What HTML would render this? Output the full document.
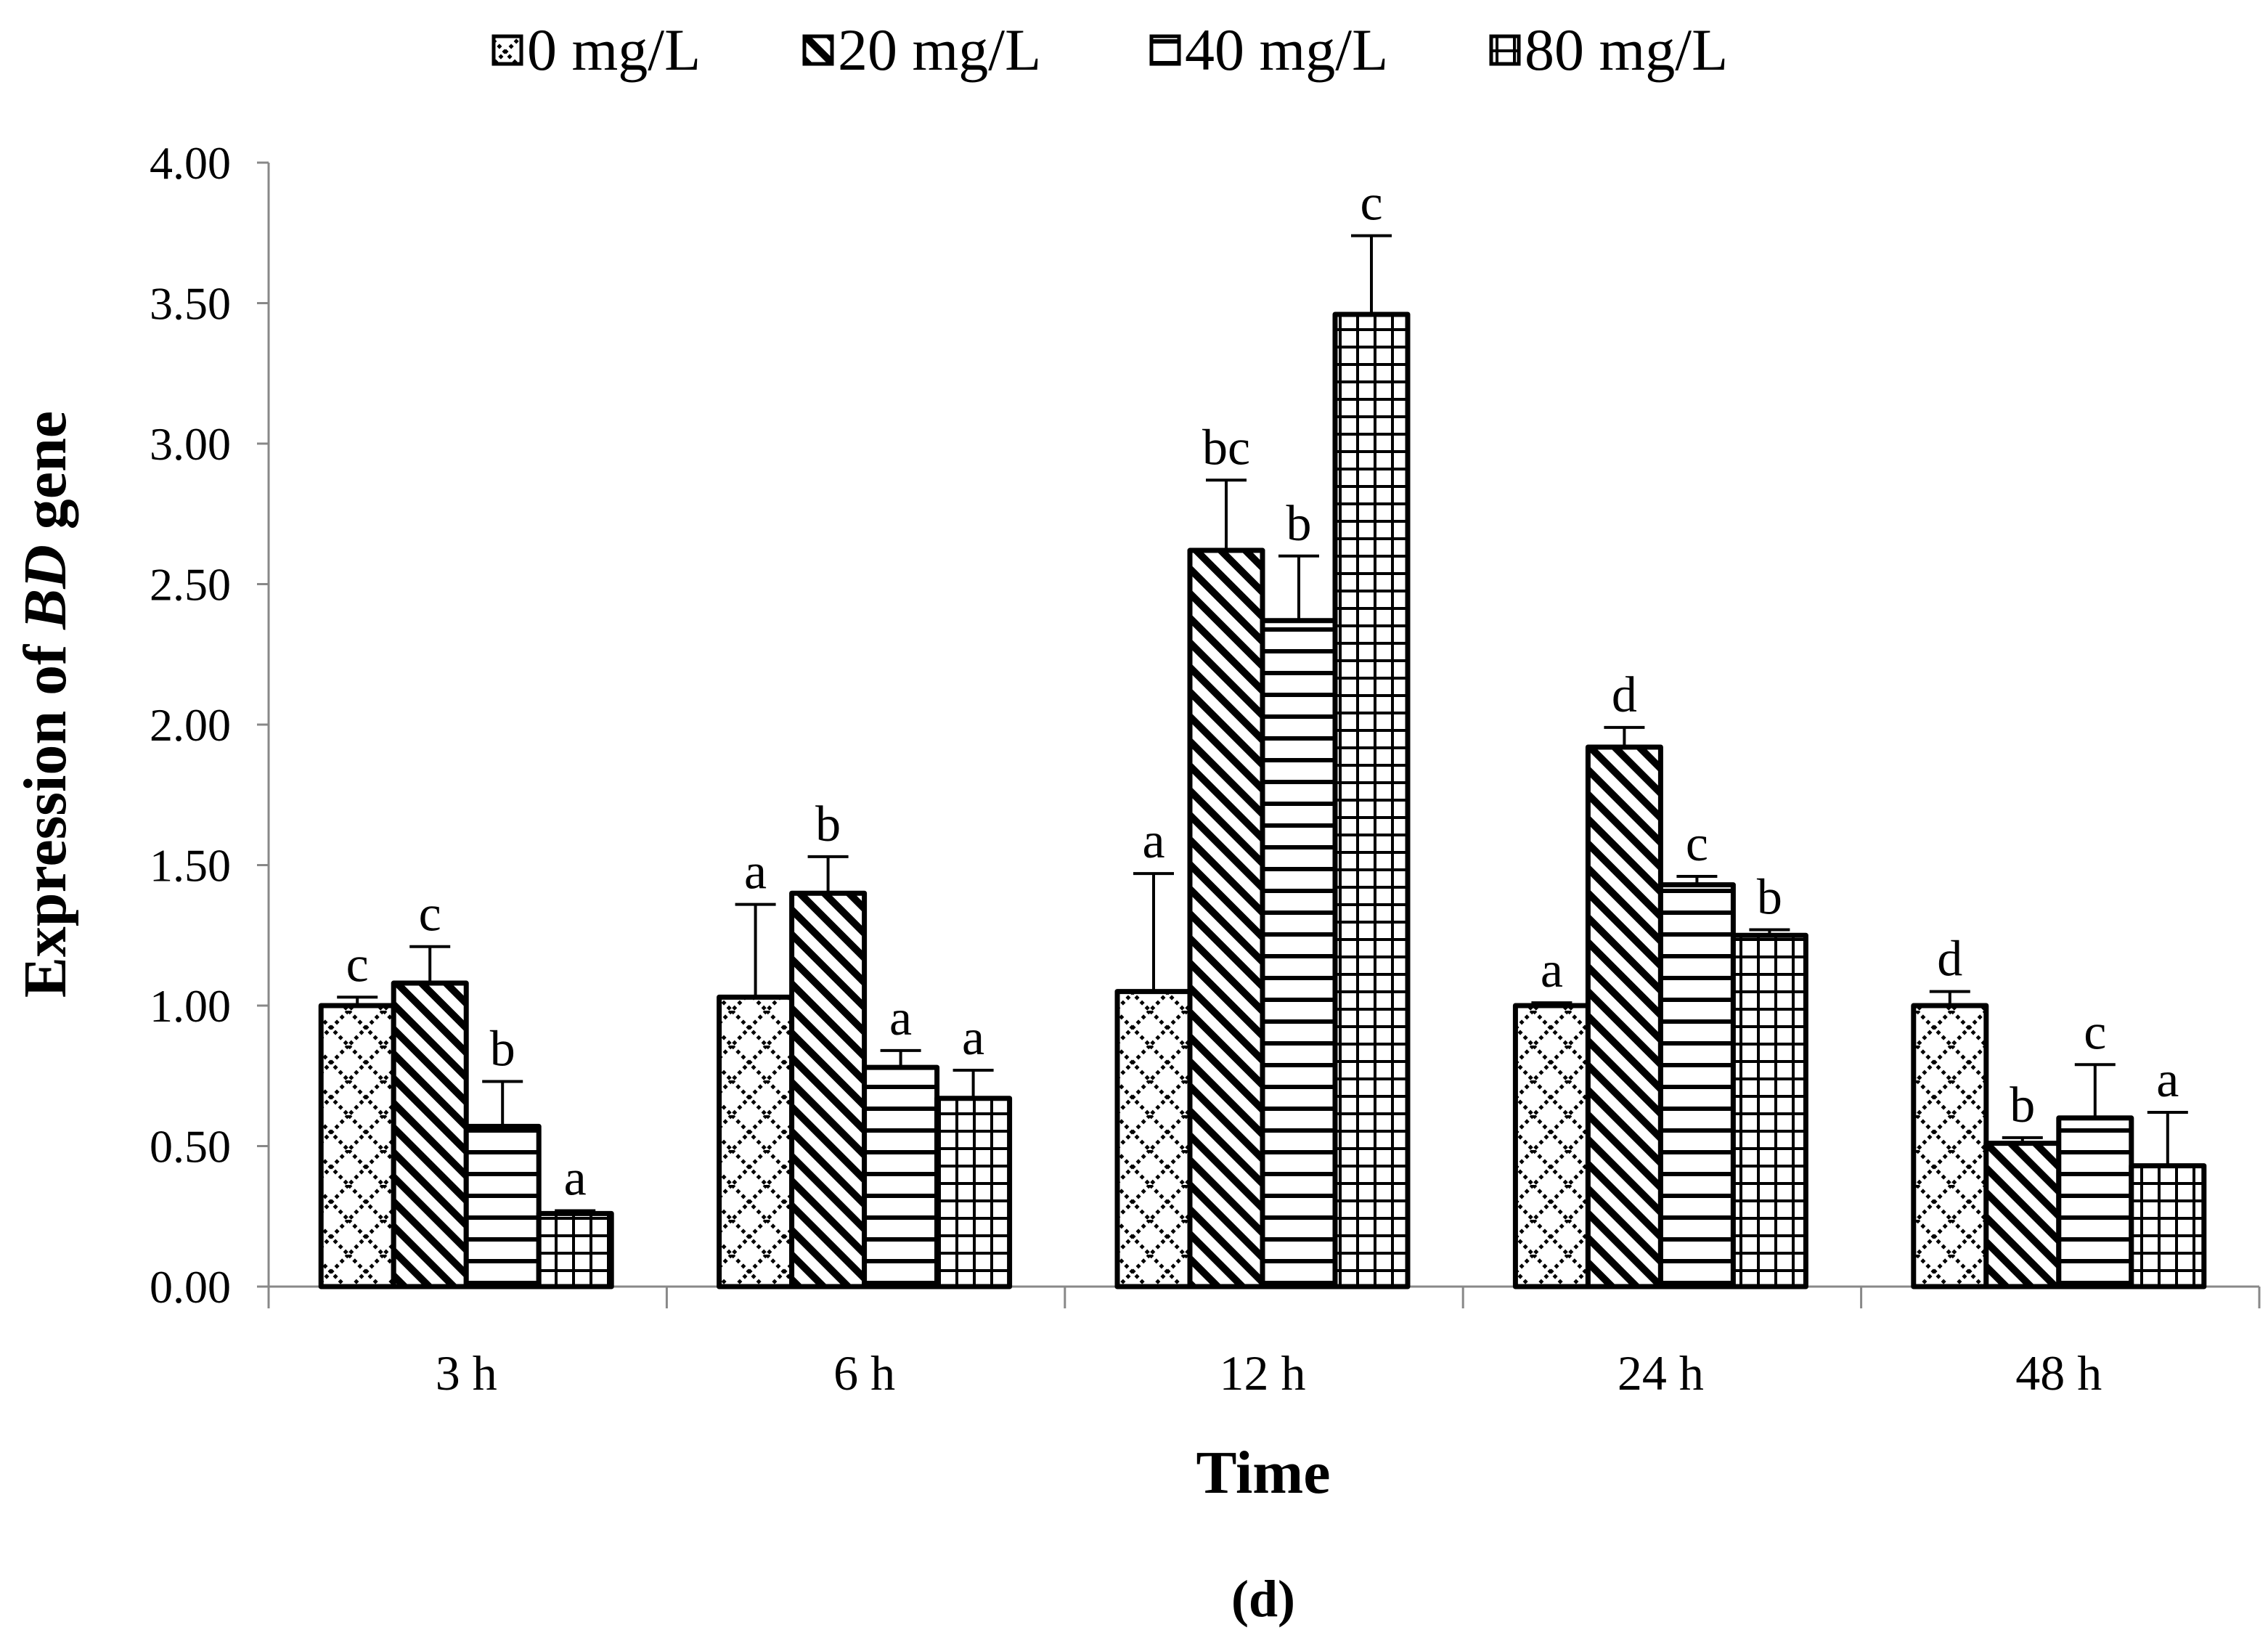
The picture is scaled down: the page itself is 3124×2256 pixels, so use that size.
<!DOCTYPE html>
<html><head><meta charset="utf-8"><style>body{margin:0;background:#fff}svg{display:block}text{font-family:"Liberation Serif",serif}</style></head>
<body>
<svg id="chart" width="3124" height="2256" viewBox="0 0 3124 2256" xmlns="http://www.w3.org/2000/svg">
<defs>
<pattern id="p0" width="48" height="48" patternUnits="userSpaceOnUse"><path d="M0 0L48 48M48 0L0 48" stroke="#000" stroke-width="5" stroke-dasharray="5 5"/></pattern>
<pattern id="p1" width="24" height="24" patternUnits="userSpaceOnUse" patternTransform="rotate(-45)"><rect width="24" height="24" fill="#fff"/><rect x="0" y="0" width="10" height="24" fill="#000"/></pattern>
<pattern id="p2" width="30" height="30" patternUnits="userSpaceOnUse"><rect width="30" height="30" fill="#fff"/><rect y="24" width="30" height="6" fill="#000"/></pattern>
<pattern id="p3" width="24" height="24" patternUnits="userSpaceOnUse"><rect width="24" height="24" fill="#fff"/><rect y="20" width="24" height="4" fill="#000"/><rect x="20" width="4" height="24" fill="#000"/></pattern>
</defs>
<g id="legend"></g>
<g id="axes"></g>
<g id="bars"></g>
<text x="1740" y="2056" font-size="84" font-weight="bold" text-anchor="middle">Time</text>
<text x="1740" y="2226" font-size="72" font-weight="bold" text-anchor="middle">(d)</text>
<text transform="translate(90,970) rotate(-90)" font-size="84" font-weight="bold" text-anchor="middle">Expression of <tspan font-style="italic">BD</tspan> gene</text>
</svg>
<script>
const categories=["3 h","6 h","12 h","24 h","48 h"];
const seriesNames=["0 mg/L","20 mg/L","40 mg/L","80 mg/L"];
const s0=[1.00,1.03,1.05,1.00,1.00];
const s1=[1.08,1.40,2.62,1.92,0.51];
const s2=[0.57,0.78,2.37,1.43,0.60];
const s3=[0.26,0.67,3.46,1.25,0.43];
const e0=[0.03,0.33,0.42,0.01,0.05];
const e1=[0.13,0.13,0.25,0.07,0.02];
const e2=[0.16,0.06,0.23,0.03,0.19];
const e3=[0.01,0.10,0.28,0.02,0.19];
const l0=["c","a","a","a","d"];
const l1=["c","b","bc","d","b"];
const l2=["b","a","b","c","c"];
const l3=["a","a","c","b","a"];
const yTicks=[0,0.5,1,1.5,2,2.5,3,3.5,4];
const NS="http://www.w3.org/2000/svg";
const X0=370,X1=3112,Y0=1772,YT=224,CW=(X1-X0)/categories.length,BW=100;
const y=v=>Y0-(v/4)*(Y0-YT);
const xc=i=>X0+CW*(i+0.5);
function mk(tag,attrs,parent){const e=document.createElementNS(NS,tag);for(const k in attrs)e.setAttribute(k,attrs[k]);parent.appendChild(e);return e;}
const axes=document.getElementById('axes'),bars=document.getElementById('bars'),leg=document.getElementById('legend');
const ya=mk('line',{x1:X0,y1:YT,x2:X0,y2:Y0,stroke:'#888','stroke-width':3},axes);

yTicks.forEach(t=>{const tk=mk('line',{x1:X0-16,x2:X0,y1:y(t),y2:y(t),stroke:'#888','stroke-width':3},axes);

const tx=mk('text',{x:X0-52,y:y(t)+22,'font-size':64,'text-anchor':'end'},axes);tx.textContent=t.toFixed(2);
});
const xa=mk('line',{x1:X0,y1:Y0,x2:X1,y2:Y0,stroke:'#888','stroke-width':3},axes);

for(let i=0;i<=categories.length;i++){const tk=mk('line',{x1:X0+CW*i,x2:X0+CW*i,y1:Y0,y2:Y0+30,stroke:'#888','stroke-width':3},axes);
}
categories.forEach((c,i)=>{const tx=mk('text',{x:xc(i)-2,y:1914,'font-size':68,'text-anchor':'middle'},axes);tx.textContent=c;
});
const S=[s0,s1,s2,s3],E=[e0,e1,e2,e3],L=[l0,l1,l2,l3];
categories.forEach((c,i)=>{S.forEach((s,j)=>{
const x=xc(i)-2*BW+j*BW-2,top=y(s[i]);
const r=mk('rect',{x:x,y:top,width:BW,height:Y0-top,fill:'url(#p'+j+')',stroke:'#000','stroke-width':7,'stroke-linejoin':'round'},bars);


const et=y(s[i]+E[j][i]),cx=x+BW/2;
const eb=mk('path',{d:`M${cx} ${top}V${et}M${cx-28} ${et}H${cx+28}`,stroke:'#000','stroke-width':4,fill:'none'},bars);

const lt=mk('text',{x:cx,y:et-22,'font-size':70,'text-anchor':'middle'},bars);lt.textContent=L[j][i];

});});
const lx=[680,1108,1586,2054];
seriesNames.forEach((n,j)=>{
const b=mk('rect',{x:lx[j],y:50,width:38,height:38,fill:'url(#p'+j+')',stroke:'#000','stroke-width':5},leg);

const t=mk('text',{x:lx[j]+46,y:96,'font-size':82},leg);t.textContent=n;

});
</script>
</body></html>
